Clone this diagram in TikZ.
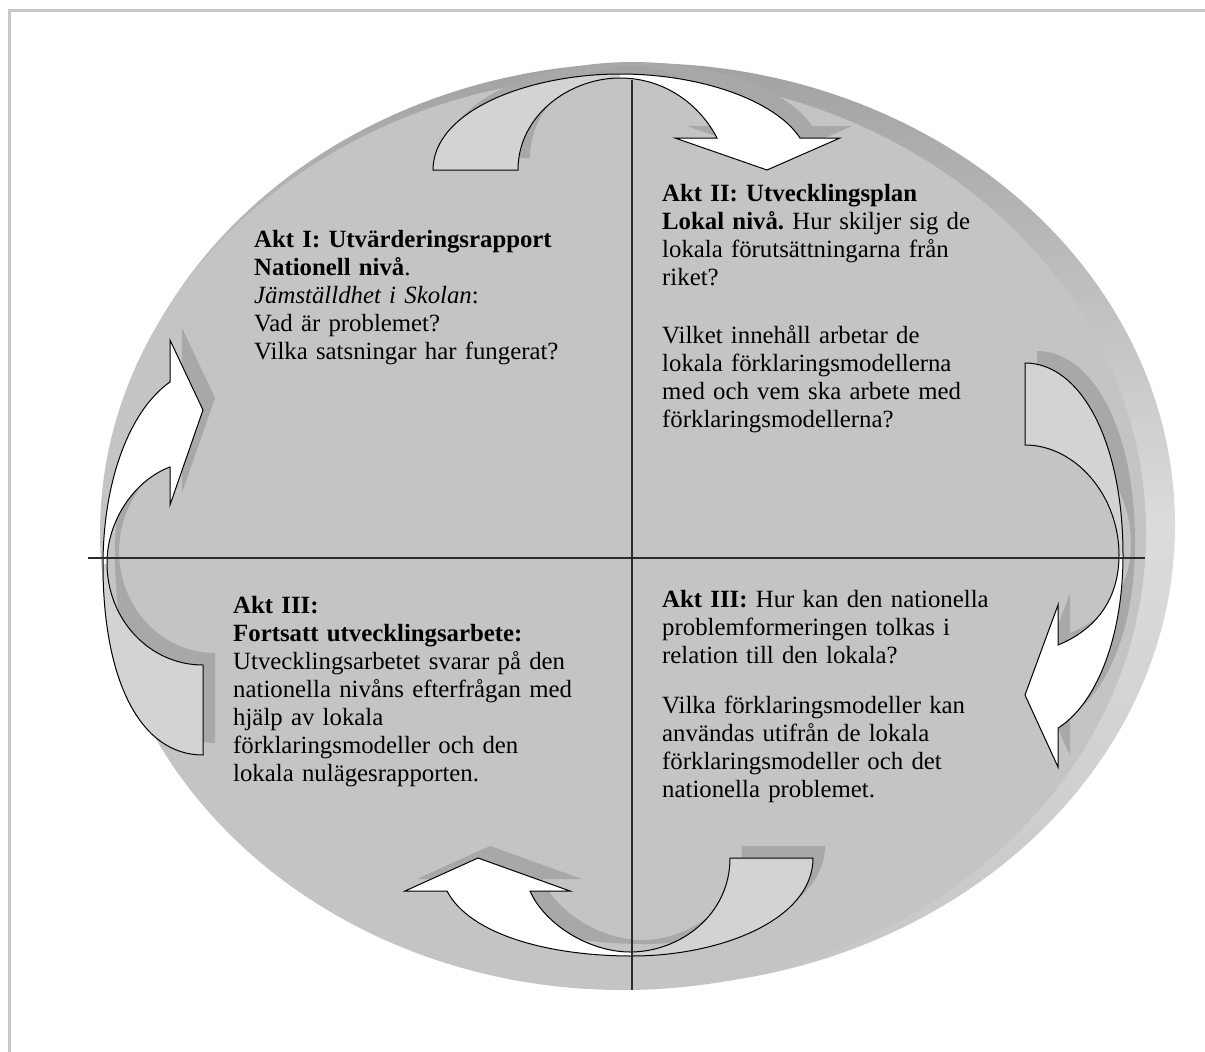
\documentclass[tikz,border=0pt]{standalone}
\usepackage{fontspec}
\setmainfont{Liberation Serif}
\frenchspacing
\definecolor{facec}{HTML}{C4C4C4}
\definecolor{backf}{HTML}{D3D3D3}
\definecolor{shadc}{HTML}{A8A8A8}
\definecolor{rimdark}{HTML}{A2A2A2}
\definecolor{rimlight}{HTML}{DCDCDC}
\definecolor{rimlow}{HTML}{C6C6C6}
\definecolor{framec}{HTML}{C8C8C8}
\definecolor{linec}{HTML}{2A2A2A}
\def\pthTop{(433,170) .. controls (433,110) and (530,74) .. (620,74) .. controls (700,74) and (775,100) .. (800,138) -- (840,138) -- (767,170) -- (675,138) -- (717,138) .. controls (700,105) and (665,78) .. (620,78) .. controls (570,78) and (518,115) .. (518,170) -- cycle}
\def\pthRight{(1025,363) .. controls (1080,363) and (1123,440) .. (1123,555) .. controls (1123,640) and (1095,705) .. (1058,728) -- (1058,767) -- (1025,695) -- (1058,605) -- (1058,645) .. controls (1095,630) and (1119,600) .. (1119,555) .. controls (1119,495) and (1075,445) .. (1025,445) -- cycle}
\def\pthBottom{(813,858) .. controls (813,920) and (720,956) .. (632,956) .. controls (550,956) and (470,935) .. (447,891) -- (405,891) -- (478,858) -- (570,891) -- (530,891) .. controls (545,925) and (590,952) .. (630,952) .. controls (680,952) and (730,915) .. (730,858) -- cycle}
\def\pthLeft{(203,755) .. controls (140,755) and (103,680) .. (103,565) .. controls (103,480) and (130,410) .. (170,382) -- (170,340) -- (203,410) -- (170,505) -- (170,467) .. controls (135,480) and (107,520) .. (107,563) .. controls (107,620) and (150,665) .. (203,665) -- cycle}
\begin{document}
\begin{tikzpicture}[x=1pt,y=-1pt,
  outl/.style={draw=black,line width=1pt,line join=miter},
  shadow/.style={fill=shadc,shift={(12,-12)}},
  axis/.style={draw=linec,line width=1.4pt},
  txt/.style={anchor=base west,inner sep=0pt,align=left,text width=420pt,
    font=\fontsize{24.8}{28}\selectfont}]
\useasboundingbox (0,0) rectangle (1205,1052);
\fill[white] (0,0) rectangle (1205,1052);
% frame
\draw[framec,line width=3pt] (9,1052) -- (9,10) -- (1205,10);
% disc: rim and face
\shade[shading angle=55,top color=rimdark,bottom color=rimlow,middle color=rimlight]
  (640,525) ellipse [x radius=535,y radius=462];
\fill[facec] (623,533) ellipse [x radius=523,y radius=457];
% shadows
\fill[shadow] \pthTop;
\fill[shadow] \pthRight;
\fill[shadow] \pthBottom;
\fill[shadow] \pthLeft;
% top arrow
\fill[white] \pthTop;
\begin{scope}\clip (0,0) rectangle (620,1052);\fill[backf] \pthTop;\end{scope}
\path[outl] \pthTop;
% right arrow
\fill[white] \pthRight;
\begin{scope}\clip (0,0) rectangle (1205,555);\fill[backf] \pthRight;\end{scope}
\path[outl] \pthRight;
% bottom arrow
\fill[white] \pthBottom;
\begin{scope}\clip (631,0) rectangle (1205,1052);\fill[backf] \pthBottom;\end{scope}
\path[outl] \pthBottom;
% left arrow
\fill[white] \pthLeft;
\begin{scope}\clip (0,564) rectangle (1205,1052);\fill[backf] \pthLeft;\end{scope}
\path[outl] \pthLeft;
% axes
\coordinate (hl) at (88,558);
\coordinate (hr) at (1145,558);
\coordinate (vt) at (632,80);
\coordinate (vb) at (632,990);
\draw[axis] (hl) -- (hr);
\draw[axis] (vt) -- (vb);
% texts
\node[txt] (t1) at (254,247) {\textbf{Akt I: Utvärderingsrapport}\\
\textbf{Nationell nivå}.\\
\textit{Jämställdhet i Skolan}:\\
Vad är problemet?\\
Vilka satsningar har fungerat?};
\node[txt] (t2) at (662,201) {\textbf{Akt II: Utvecklingsplan}\\
\textbf{Lokal nivå.} Hur skiljer sig de\\
lokala förutsättningarna från\\
riket?\\[30pt]
Vilket innehåll arbetar de\\
lokala förklaringsmodellerna\\
med och vem ska arbete med\\
förklaringsmodellerna?};
\node[txt] (t3) at (233,613) {\textbf{Akt III:}\\
\textbf{Fortsatt utvecklingsarbete:}\\
Utvecklingsarbetet svarar på den\\
nationella nivåns efterfrågan med\\
hjälp av lokala\\
förklaringsmodeller och den\\
lokala nulägesrapporten.};
\node[txt] (t4) at (662,607) {\textbf{Akt III:} Hur kan den nationella\\
problemformeringen tolkas i\\
relation till den lokala?\\[22pt]
Vilka förklaringsmodeller kan\\
användas utifrån de lokala\\
förklaringsmodeller och det\\
nationella problemet.};
\end{tikzpicture}
\end{document}
